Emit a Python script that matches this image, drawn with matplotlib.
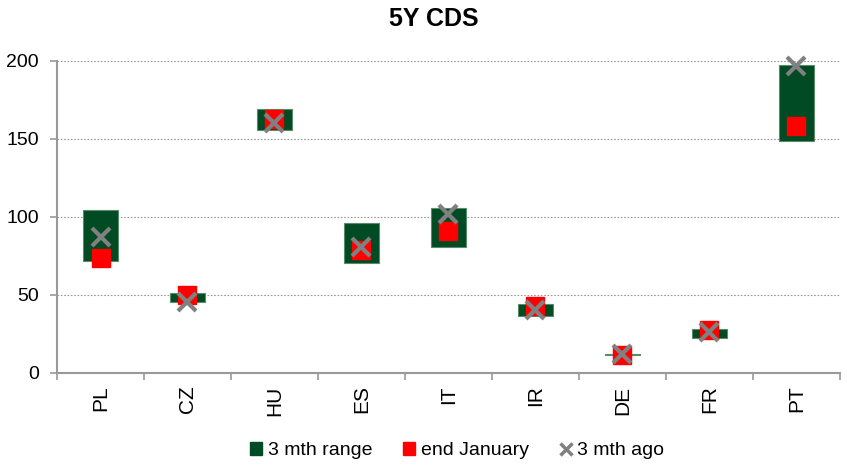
import numpy as np
import matplotlib.pyplot as plt
from matplotlib.lines import Line2D
from matplotlib.patches import Patch

plt.rcParams["font.family"] = ["Liberation Sans", "DejaVu Sans"]

countries = ["PL", "CZ", "HU", "ES", "IT", "IR", "DE", "FR", "PT"]
range_low = [72, 45.5, 156, 70.5, 80.5, 36.5, 11.7, 22.5, 148.5]
range_high = [104.5, 51, 169, 96, 106, 44, 12.3, 28.5, 197.5]
end_january = [74, 50, 163, 79, 91, 43, 11.8, 27.5, 158.5]
three_mth_ago = [87, 45.5, 160, 81, 102, 40.5, 12, 26, 196.5]

GREEN = "#004b23"
RED = "#ff0000"
GREY = "#808080"

fig = plt.figure(figsize=(8.47, 4.69), dpi=100)
ax = fig.add_axes([0.0673, 0.2047, 0.9244, 0.6653])

x = np.arange(len(countries))
low = np.array(range_low)
high = np.array(range_high)
ax.bar(x, high - low, bottom=low, width=0.4, color=GREEN,
       edgecolor="#5a8a6a", linewidth=0.8, zorder=2)
ax.plot(x, end_january, linestyle="none", marker="s", markersize=13.5,
        color=RED, zorder=3)
ax.plot(x, three_mth_ago, linestyle="none", marker="x", markersize=13,
        markeredgewidth=3, color=GREY, zorder=4, clip_on=False)

ax.set_xlim(-0.5, len(countries) - 0.5)
ax.set_ylim(0, 200)
ax.set_yticks([0, 50, 100, 150, 200])
ax.set_xticks(x)
ax.set_xticklabels(countries, rotation=90)
ax.set_xticks(np.arange(-0.5, len(countries)), minor=True)
ax.tick_params(axis="x", which="major", length=0, labelsize=15, pad=9)
ax.tick_params(axis="x", which="minor", length=5, width=1.2, color="#999999")
ax.tick_params(axis="y", length=5, width=1.2, color="#999999", labelsize=14, pad=8)

ax.yaxis.grid(True, linestyle=(0, (1.5, 1.5)), color="#999999", linewidth=0.8)
ax.set_axisbelow(True)
for side in ("top", "right"):
    ax.spines[side].set_visible(False)
for side in ("left", "bottom"):
    ax.spines[side].set_color("#999999")
    ax.spines[side].set_linewidth(1.5)

ax.set_title("5Y CDS", fontsize=18, fontweight="bold", pad=25, x=0.481)

handles = [
    Patch(facecolor=GREEN, edgecolor=GREEN),
    Patch(facecolor=RED, edgecolor=RED),
    Line2D([], [], linestyle="none", marker="x", markersize=9,
           markeredgewidth=2.5, color=GREY),
]
fig.legend(handles, ["3 mth range", "end January", "3 mth ago"],
           loc="center", bbox_to_anchor=(0.54, 0.039), ncol=3, frameon=False,
           fontsize=14, handlelength=0.6, handleheight=0.6, handletextpad=0.3,
           columnspacing=1.6)

fig.savefig("out.png", dpi=100)
